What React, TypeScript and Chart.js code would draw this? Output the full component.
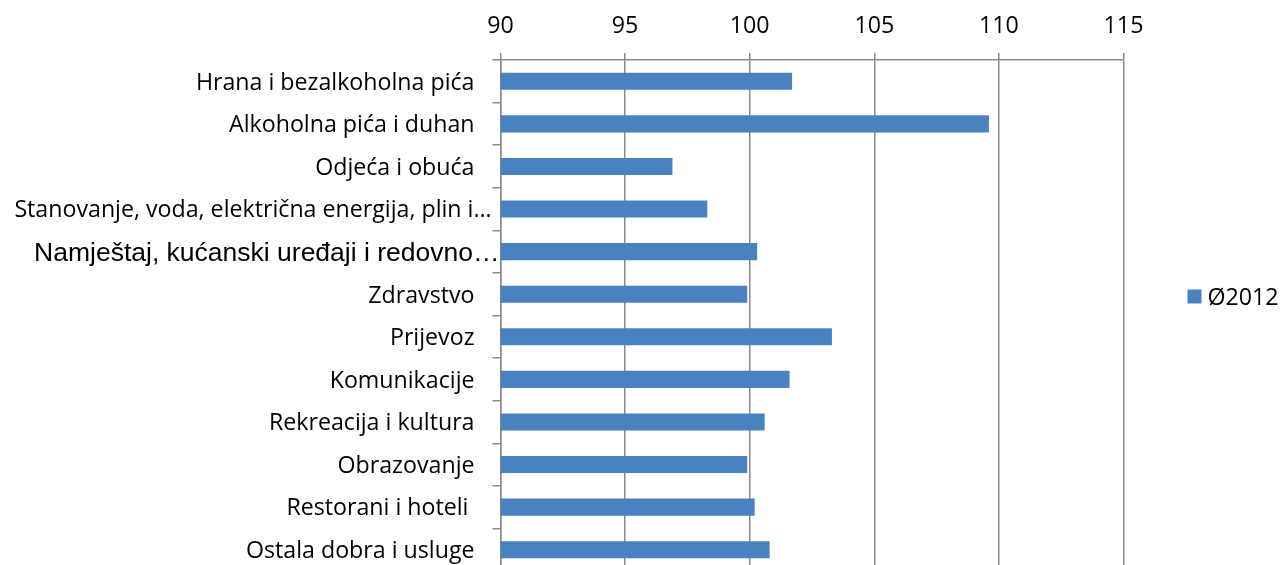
import React, { useEffect, useRef } from 'react';
import { Chart, registerables } from 'chart.js';

Chart.register(...registerables);

const categories = [
  'Hrana i bezalkoholna pića',
  'Alkoholna pića i duhan',
  'Odjeća i obuća',
  'Stanovanje, voda, električna energija, plin i…',
  'Namještaj, kućanski uređaji i redovno…',
  'Zdravstvo',
  'Prijevoz',
  'Komunikacije',
  'Rekreacija i kultura',
  'Obrazovanje',
  'Restorani i hoteli ',
  'Ostala dobra i usluge',
];

const values2012 = [101.7, 109.6, 96.9, 98.3, 100.3, 99.9, 103.3, 101.6, 100.6, 99.9, 100.2, 100.8];

const seriesLabel = 'Ø2012';

const xTickValues = [90, 95, 100, 105, 110, 115];

const BAR_COLOR = '#4A81BF';
const GRID_COLOR = '#8a8a8a';
const TEXT_COLOR = '#000000';
const BASE_FONT = { size: 23.2, family: '"Open Sans"' };
const LABEL_STYLES: Record<number, { size?: number; family?: string; gap?: number }> = {
  3: { gap: 9 },
  4: { size: 26.5, family: '"Liberation Sans", Arial', gap: 1 },
};

function drawText(ctx: CanvasRenderingContext2D, text: string, x: number, y: number, align: CanvasTextAlign) {
  ctx.textAlign = align;
  ctx.fillText(text, x, y);
}

const textPlugin = {
  id: 'axisText',
  afterDraw(chart: any) {
    const { ctx, chartArea } = chart;
    const x = chart.scales.x;
    const y = chart.scales.y;
    ctx.save();
    ctx.fillStyle = TEXT_COLOR;
    ctx.textBaseline = 'alphabetic';
    // category labels
    (chart.data.labels as string[]).forEach((lab, i) => {
      const st = LABEL_STYLES[i] || {};
      const size = st.size ?? BASE_FONT.size;
      const family = st.family ?? BASE_FONT.family;
      const gap = st.gap ?? 26;
      ctx.font = `${size}px ${family}`;
      const cy = y.getPixelForValue(i);
      drawText(ctx, lab, chartArea.left - gap, cy + size * 0.36, 'right');
    });
    // x tick labels
    ctx.font = `${BASE_FONT.size}px ${BASE_FONT.family}`;
    x.ticks.forEach((t: any) => {
      const px = x.getPixelForValue(t.value);
      drawText(ctx, String(t.value), px, chartArea.top - 27, 'center');
    });
    // legend
    const ds = chart.data.datasets[0];
    const cyLeg = (chartArea.top + chartArea.bottom) / 2 - 19;
    ctx.fillStyle = ds.backgroundColor;
    ctx.fillRect(chartArea.right + 64, cyLeg - 7, 14, 14);
    ctx.fillStyle = TEXT_COLOR;
    drawText(ctx, ds.label, chartArea.right + 84, cyLeg + 8, 'left');
    ctx.restore();
  },
};

export default function App() {
  const ref = useRef<HTMLCanvasElement | null>(null);
  useEffect(() => {
    document.body.style.margin = '0';
    document.body.style.overflow = 'hidden';
    const canvas = ref.current!;
    const chart = new Chart(canvas, {
      type: 'bar',
      data: {
        labels: categories,
        datasets: [
          {
            label: seriesLabel,
            data: values2012,
            backgroundColor: BAR_COLOR,
            borderWidth: 0,
            barPercentage: 0.4,
            categoryPercentage: 1,
          },
        ],
      },
      options: {
        indexAxis: 'y',
        animation: false,
        responsive: false,
        devicePixelRatio: 1,
        layout: { padding: { left: 0, right: 156.5, top: 0, bottom: 4 } },
        plugins: {
          legend: { display: false },
          tooltip: { enabled: false },
        },
        scales: {
          x: {
            position: 'top',
            min: xTickValues[0],
            max: xTickValues[xTickValues.length - 1],
            z: 1,
            ticks: { stepSize: xTickValues[1] - xTickValues[0], display: false },
            grid: { color: GRID_COLOR, lineWidth: 1.5, tickLength: 7, drawTicks: true },
            border: { display: true, color: GRID_COLOR, width: 1.5 },
            afterFit: (scale: any) => {
              scale.height = 60;
            },
          },
          y: {
            z: 1,
            ticks: { display: false },
            grid: { drawOnChartArea: false, drawTicks: true, tickLength: 8, color: GRID_COLOR, lineWidth: 1.5, offset: true },
            border: { display: true, color: GRID_COLOR, width: 1.5 },
            afterFit: (scale: any) => {
              scale.width = 500.5;
            },
          },
        },
      },
      plugins: [textPlugin],
    });
    return () => chart.destroy();
  }, []);
  return (
    <div style={{ width: 1280, height: 565, overflow: 'hidden', background: '#fff' }}>
      <canvas ref={ref} width={1280} height={575} style={{ display: 'block' }} />
    </div>
  );
}
